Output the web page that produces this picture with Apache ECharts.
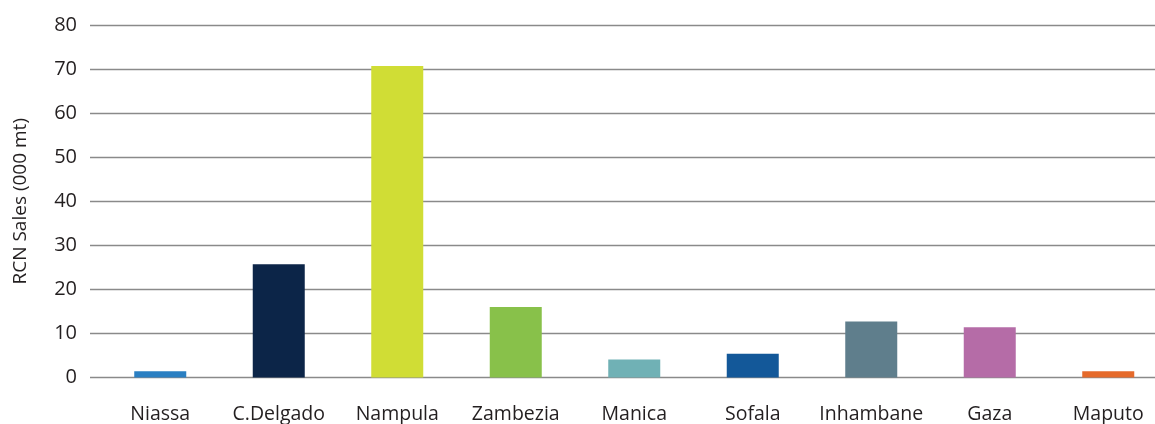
<!DOCTYPE html>
<html>
<head>
<meta charset="utf-8">
<script src="https://cdn.jsdelivr.net/npm/echarts@6/dist/echarts.min.js"></script>
<style>
  html, body { margin: 0; padding: 0; background: #fff; }
  #chart { width: 1155px; height: 424px; }
</style>
</head>
<body>
<div id="chart"></div>
<script>
  // provinces and RCN sales (000 mt)
  var provinces = ['Niassa', 'C.Delgado', 'Nampula', 'Zambezia', 'Manica', 'Sofala', 'Inhambane', 'Gaza', 'Maputo'];
  var sales = [1.4, 25.7, 70.7, 16.0, 4.1, 5.4, 12.7, 11.4, 1.4];
  var barColors = ['#2a7fc2', '#0c2548', '#d0dd35', '#88c14a', '#70b1b5', '#135899', '#5f7e8c', '#b56ca7', '#e56a2b'];
  var yTicks = [0, 10, 20, 30, 40, 50, 60, 70, 80];

  var font = '"Open Sans", "Noto Sans", sans-serif';
  var myChart = echarts.init(document.getElementById('chart'));

  var option = {
    animation: false,
    grid: [
      // gridlines + y labels
      { left: 90, right: 0, top: 25, bottom: 46.5, outerBoundsMode: 'none' },
      // bars (band runs a little past the right edge, like the original)
      { left: 101, width: 1066.5, top: 25, bottom: 46.5, outerBoundsMode: 'none' }
    ],
    xAxis: [
      { gridIndex: 0, type: 'value', show: false },
      {
        gridIndex: 1,
        type: 'category',
        data: provinces,
        axisLine: { show: false },
        axisTick: { show: false },
        axisLabel: { color: '#231f20', fontSize: 19.5, fontFamily: font, margin: 27, interval: 0 }
      }
    ],
    yAxis: [
      {
        gridIndex: 0,
        type: 'value',
        min: yTicks[0],
        max: yTicks[yTicks.length - 1],
        interval: 10,
        name: 'RCN Sales (000 mt)',
        nameLocation: 'middle',
        nameGap: 60,
        nameTextStyle: { color: '#231f20', fontSize: 19, fontFamily: font },
        axisLine: { show: false },
        axisTick: { show: false },
        axisLabel: { color: '#231f20', fontSize: 20, fontFamily: font, margin: 13 },
        splitLine: { show: true, lineStyle: { color: '#8a8a8a', width: 1.3 } }
      },
      {
        gridIndex: 1,
        type: 'value',
        min: 0,
        max: 80,
        show: false,
        splitLine: { show: false }
      }
    ],
    series: [{
      type: 'bar',
      xAxisIndex: 1,
      yAxisIndex: 1,
      barWidth: 52,
      data: sales.map(function (v, i) {
        return { value: v, itemStyle: { color: barColors[i] } };
      })
    }]
  };
  myChart.setOption(option);
</script>
</body>
</html>
